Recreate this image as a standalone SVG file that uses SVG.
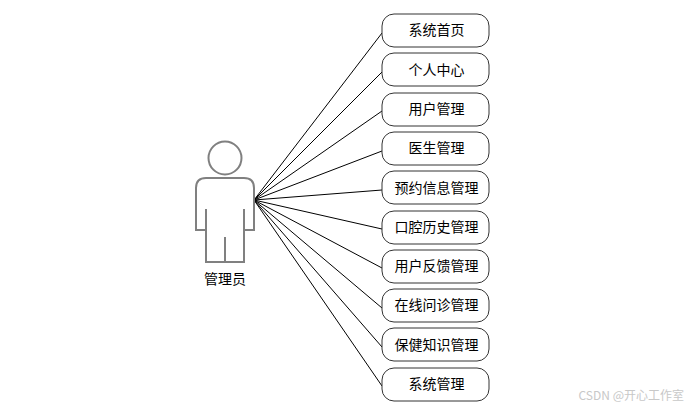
<svg xmlns="http://www.w3.org/2000/svg" width="692" height="411" viewBox="0 0 692 411">
<style>
.box{fill:#fff;stroke:#333;stroke-width:1}
.lbl{font-family:"Noto Sans CJK SC","Liberation Sans",sans-serif;font-size:14px;fill:#000;text-anchor:middle}
.act{fill:#fff;stroke:#808080;stroke-width:2}
.con{fill:none;stroke:#000;stroke-width:1}
</style>
<rect width="692" height="411" fill="#fff"/>
<g id="connectors">
<path class="con" d="M254 200L382 33"/>
<path class="con" d="M254 200L382 72"/>
<path class="con" d="M254 200L382 111"/>
<path class="con" d="M254 200L382 151"/>
<path class="con" d="M254 200L382 190"/>
<path class="con" d="M254 200L382 229"/>
<path class="con" d="M254 200L382 268"/>
<path class="con" d="M254 200L382 308"/>
<path class="con" d="M254 200L382 347"/>
<path class="con" d="M254 200L382 386"/>
</g>
<g id="actor">
<circle class="act" cx="225" cy="158" r="16.5"/>
<path class="act" d="M206 262V230H196V188Q196 178 206 178H244Q254 178 254 188V230H244V262Z"/>
<path class="act" d="M206 209V230M244 209V230M225 237V262" fill="none"/>
<text class="lbl" x="225" y="284">管理员</text>
</g>
<g id="n1"><rect class="box" x="382" y="14" width="107" height="33" rx="12"/><text class="lbl" x="436.500" y="35">系统首页</text></g>
<g id="n2"><rect class="box" x="382" y="53" width="107" height="33" rx="12"/><text class="lbl" x="436.500" y="75">个人中心</text></g>
<g id="n3"><rect class="box" x="382" y="93" width="107" height="33" rx="12"/><text class="lbl" x="436.500" y="114">用户管理</text></g>
<g id="n4"><rect class="box" x="382" y="132" width="107" height="33" rx="12"/><text class="lbl" x="436.500" y="153">医生管理</text></g>
<g id="n5"><rect class="box" x="382" y="171" width="107" height="33" rx="12"/><text class="lbl" x="436.500" y="193">预约信息管理</text></g>
<g id="n6"><rect class="box" x="382" y="211" width="107" height="33" rx="12"/><text class="lbl" x="436.500" y="232">口腔历史管理</text></g>
<g id="n7"><rect class="box" x="382" y="250" width="107" height="33" rx="12"/><text class="lbl" x="436.500" y="271">用户反馈管理</text></g>
<g id="n8"><rect class="box" x="382" y="289" width="107" height="33" rx="12"/><text class="lbl" x="436.500" y="310">在线问诊管理</text></g>
<g id="n9"><rect class="box" x="382" y="328" width="107" height="33" rx="12"/><text class="lbl" x="436.500" y="350">保健知识管理</text></g>
<g id="n10"><rect class="box" x="382" y="368" width="107" height="33" rx="12"/><text class="lbl" x="436.500" y="389">系统管理</text></g>
<text x="684" y="400" text-anchor="end" font-family="'Noto Sans CJK SC','Liberation Sans',sans-serif" font-size="12" fill="#c8c8c8">CSDN @开心工作室</text>
</svg>
